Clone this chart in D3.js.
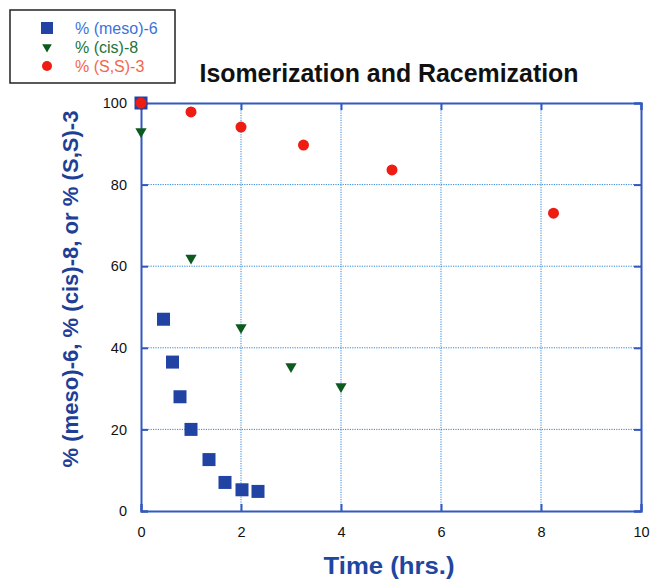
<!DOCTYPE html>
<html><head><meta charset="utf-8">
<script src="https://cdn.jsdelivr.net/npm/d3@7"></script>
<style>body{margin:0;background:#fff;}svg{display:block;}</style>
</head><body>
<svg id="chart" width="653" height="581"></svg>
<script>
const mesoT = [0, 0.45, 0.63, 0.78, 1.0, 1.36, 1.68, 2.02, 2.34];
const mesoV = [100, 47, 36.5, 28, 20, 12.6, 7, 5.2, 4.8];
const cisT = [0, 1, 2, 3, 4];
const cisV = [93, 62, 45, 35.4, 30.5];
const ssT = [0, 1, 2, 3.25, 5.02, 8.25];
const ssV = [100, 97.8, 94.1, 89.7, 83.6, 73];
const xTicks = [0, 2, 4, 6, 8, 10];
const yTicks = [0, 20, 40, 60, 80, 100];
const legendLabels = ["% (meso)-6", "% (cis)-8", "% (S,S)-3"];
const title = "Isomerization and Racemization";
const xTitle = "Time (hrs.)";
const yTitle = "% (meso)-6, % (cis)-8, or % (S,S)-3";

const svg = d3.select("#chart");
const L = 141, R = 641, T = 103, B = 511;
const x = d3.scaleLinear().domain([0, 10]).range([L, R]);
const y = d3.scaleLinear().domain([0, 100]).range([B, T]);
const axisCol = "#3358c0", gridCol = "#2f86d8";

// grid
svg.append("g").selectAll("line").data(xTicks.filter(d => d > 0 && d < 10)).join("line")
  .attr("x1", d => x(d)).attr("x2", d => x(d)).attr("y1", T).attr("y2", B)
  .attr("stroke", gridCol).attr("stroke-width", 1).attr("stroke-dasharray", "1.2,1.2");
svg.append("g").selectAll("line").data(yTicks.filter(d => d > 0 && d < 100)).join("line")
  .attr("y1", d => y(d)).attr("y2", d => y(d)).attr("x1", L).attr("x2", R)
  .attr("stroke", gridCol).attr("stroke-width", 1).attr("stroke-dasharray", "1.2,1.2");

// axes
const font = "Arial, 'Liberation Sans', sans-serif";
const gx = svg.append("g").attr("transform", `translate(0,${B})`)
  .call(d3.axisBottom(x).tickValues(xTicks).tickSize(-7).tickPadding(16).tickFormat(d3.format("d")));
const gy = svg.append("g").attr("transform", `translate(${L},0)`)
  .call(d3.axisLeft(y).tickValues(yTicks).tickSize(-7).tickPadding(14).tickFormat(d3.format("d")));
const gt = svg.append("g").attr("transform", `translate(0,${T})`)
  .call(d3.axisTop(x).tickValues(xTicks).tickSize(-7).tickFormat(""));
const gr = svg.append("g").attr("transform", `translate(${R},0)`)
  .call(d3.axisRight(y).tickValues(yTicks).tickSize(-7).tickFormat(""));
[gx, gy, gt, gr].forEach(g => {
  g.select(".domain").attr("stroke", axisCol).attr("stroke-width", 2);
  g.selectAll(".tick line").attr("stroke", axisCol).attr("stroke-width", 2);
  g.selectAll(".tick text").attr("fill", "#111").attr("font-size", 14.5).attr("font-family", font);
});

// markers
svg.append("g").selectAll("rect").data(mesoT.map((t, i) => [t, mesoV[i]])).join("rect")
  .attr("x", d => x(d[0]) - 6.5).attr("y", d => y(d[1]) - 6.5)
  .attr("width", 13).attr("height", 13).attr("fill", "#2143a3");
const tri = d3.symbol().type(d3.symbolTriangle).size(55);
svg.append("g").selectAll("path").data(cisT.map((t, i) => [t, cisV[i]])).join("path")
  .attr("d", tri).attr("transform", d => `translate(${x(d[0])},${y(d[1])}) rotate(180)`)
  .attr("fill", "#0c5a1e");
svg.append("g").selectAll("circle").data(ssT.map((t, i) => [t, ssV[i]])).join("circle")
  .attr("cx", d => x(d[0])).attr("cy", d => y(d[1])).attr("r", 5.5).attr("fill", "#ee1c12");

// titles
svg.append("text").attr("x", 389).attr("y", 82).attr("text-anchor", "middle")
  .attr("font-family", font).attr("font-weight", "bold").attr("font-size", 25).attr("fill", "#111")
  .attr("textLength", 379).attr("lengthAdjust", "spacingAndGlyphs").text(title);
svg.append("text").attr("x", 389).attr("y", 574).attr("text-anchor", "middle")
  .attr("font-family", font).attr("font-weight", "bold").attr("font-size", 24).attr("fill", "#2146a0")
  .attr("textLength", 131).attr("lengthAdjust", "spacingAndGlyphs").text(xTitle);
svg.append("text").attr("transform", "translate(78,289) rotate(-90)").attr("text-anchor", "middle")
  .attr("font-family", font).attr("font-weight", "bold").attr("font-size", 22).attr("fill", "#1f3f96")
  .attr("textLength", 357).attr("lengthAdjust", "spacingAndGlyphs").text(yTitle);

// legend
svg.append("rect").attr("x", 10).attr("y", 10).attr("width", 165).attr("height", 73)
  .attr("fill", "#fff").attr("stroke", "#222").attr("stroke-width", 1.5);
const lg = svg.append("g");
const rows = [28, 47, 66];
const txtCols = ["#3b72d9", "#23733a", "#f3664a"];
lg.append("rect").attr("x", 41).attr("y", rows[0] - 6).attr("width", 12).attr("height", 12).attr("fill", "#2143a3");
lg.append("path").attr("d", d3.symbol().type(d3.symbolTriangle).size(40))
  .attr("transform", `translate(47,${rows[1]}) rotate(180)`).attr("fill", "#0c5a1e");
lg.append("circle").attr("cx", 47).attr("cy", rows[2]).attr("r", 5).attr("fill", "#ee1c12");
lg.selectAll("text").data(legendLabels).join("text")
  .attr("x", 75).attr("y", (d, i) => rows[i] + 5.5).attr("font-family", font).attr("font-size", 16)
  .attr("fill", (d, i) => txtCols[i]).text(d => d);
</script>
</body></html>
